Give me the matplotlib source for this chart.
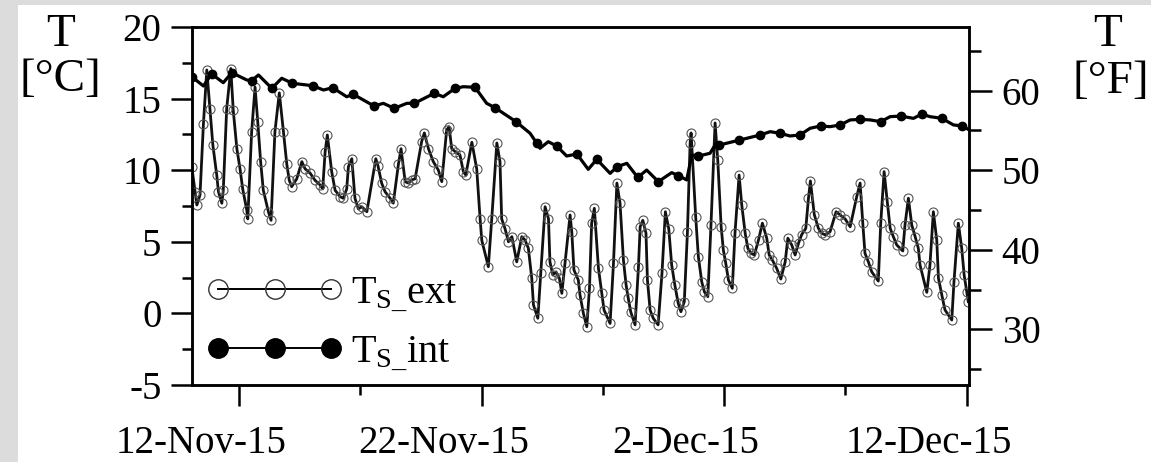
import matplotlib
matplotlib.use('Agg')
import matplotlib.pyplot as plt
import matplotlib.dates as mdates
import matplotlib.transforms as mtransforms
from matplotlib.ticker import FixedLocator
from matplotlib.lines import Line2D
from matplotlib.patches import Rectangle
import numpy as np
import pandas as pd

# ---------------- data (time = day of November 2015; 1-Dec = 31) ----------------
ext_day = [10.05, 10.19, 10.26, 10.39, 10.53, 10.67, 10.80, 10.92, 11.08, 11.15, 11.29, 11.35,
           11.49, 11.66, 11.76, 11.91, 12.04, 12.15, 12.32, 12.36, 12.52, 12.66, 12.77, 12.89,
           13.00, 13.21, 13.32, 13.48, 13.66, 13.83, 13.97, 14.07, 14.17, 14.38, 14.59, 14.72,
           14.93, 15.13, 15.34, 15.45, 15.55, 15.64, 15.82, 15.96, 16.17, 16.30, 16.44, 16.51,
           16.65, 16.78, 16.92, 17.06, 17.27, 17.64, 17.73, 17.88, 18.02, 18.23, 18.36, 18.57,
           18.68, 18.85, 18.98, 19.12, 19.26, 19.53, 19.64, 19.81, 20.01, 20.22, 20.36, 20.56,
           20.66, 20.77, 20.91, 21.11, 21.25, 21.35, 21.60, 21.80, 21.94, 22.01, 22.28, 22.42,
           22.63, 22.76, 22.83, 22.97, 23.11, 23.25, 23.45, 23.66, 23.79, 23.93, 24.07, 24.14,
           24.32, 24.44, 24.62, 24.76, 24.82, 24.94, 25.07, 25.21, 25.31, 25.44, 25.65, 25.72,
           25.81, 25.99, 26.06, 26.20, 26.34, 26.45, 26.54, 26.65, 26.82, 26.96, 27.05, 27.30,
           27.44, 27.58, 27.71, 27.85, 27.96, 28.05, 28.15, 28.33, 28.47, 28.54, 28.65, 28.78,
           28.84, 28.95, 29.08, 29.28, 29.44, 29.58, 29.72, 29.84, 29.97, 30.11, 30.22, 30.36,
           30.49, 30.60, 30.64, 30.83, 30.94, 31.08, 31.19, 31.33, 31.46, 31.63, 31.74, 31.88,
           31.97, 32.07, 32.18, 32.34, 32.45, 32.62, 32.73, 32.87, 32.98, 33.11, 33.25, 33.42,
           33.58, 33.76, 33.86, 33.99, 34.17, 34.34, 34.52, 34.63, 34.79, 34.93, 35.07, 35.20,
           35.37, 35.48, 35.56, 35.72, 35.89, 36.03, 36.17, 36.37, 36.62, 36.79, 36.99, 37.20,
           37.47, 37.61, 37.72, 37.81, 37.95, 38.09, 38.36, 38.46, 38.60, 38.73, 38.85, 38.98,
           39.12, 39.37, 39.46, 39.60, 39.74, 39.88, 40.01, 40.08, 40.36, 40.49, 40.63, 40.77,
           40.84, 40.98, 41.11, 41.39, 41.48, 41.66, 41.80, 41.90, 42.01, 42.07]
ext_temp = [10.25, 8.5, 7.57, 8.27, 13.2, 17.0, 14.3, 11.76, 9.66, 8.5, 7.69, 8.6,
            14.3, 17.1, 14.2, 11.5, 10.1, 8.7, 7.2, 6.6, 12.7, 15.8, 13.4, 10.6,
            8.6, 7.1, 6.5, 12.7, 15.4, 12.7, 10.4, 9.3, 8.85, 9.4, 10.6, 10.1,
            9.8, 9.3, 8.97, 8.7, 11.3, 12.46, 9.9, 8.6, 8.15, 8.04, 8.7, 10.25,
            10.8, 8.04, 7.3, 7.45, 7.1, 10.8, 10.3, 9.1, 8.5, 8.04, 7.7, 10.4,
            11.5, 9.2, 9.1, 9.32, 9.4, 12.0, 12.6, 11.5, 10.6, 10.0, 9.2, 12.8,
            13.04, 11.5, 11.3, 11.06, 9.9, 9.66, 11.95, 10.1, 6.6, 5.1, 3.26, 6.6,
            11.9, 10.6, 6.6, 5.9, 5.0, 5.36, 3.6, 5.36, 5.13, 4.55, 2.45, 0.59,
            -0.34, 2.8, 7.45, 6.6, 3.6, 2.68, 2.9, 2.45, 1.4, 3.5, 6.87, 5.7,
            3.03, 2.33, 1.28, 0.0, -0.93, 1.75, 6.3, 7.34, 3.15, 1.4, 0.24, -0.7,
            3.5, 9.1, 7.7, 3.73, 1.98, 1.05, 0.12, -0.8, 3.26, 6.05, 6.5, 5.6,
            2.33, 0.24, -0.34, -0.8, 2.8, 7.1, 5.9, 3.38, 1.98, 0.7, 0.12, 0.82,
            5.7, 11.9, 12.6, 6.75, 3.96, 2.2, 1.5, 1.17, 6.17, 13.3, 10.7, 6.05,
            4.43, 3.5, 2.33, 1.75, 5.6, 9.66, 7.57, 5.6, 4.55, 4.2, 4.08, 5.13,
            6.3, 5.25, 4.08, 3.73, 3.15, 2.4, 3.6, 5.25, 4.78, 4.08, 4.9, 5.5,
            5.94, 8.04, 9.25, 6.9, 5.94, 5.6, 5.48, 5.7, 7.1, 6.87, 6.6, 6.05,
            8.15, 9.1, 6.3, 4.2, 3.6, 2.9, 2.26, 6.3, 9.9, 7.8, 5.94, 5.36,
            4.78, 4.36, 6.17, 8.04, 6.17, 5.36, 4.55, 3.38, 1.47, 3.38, 7.1, 5.13,
            2.45, 1.28, 0.24, -0.46, 2.2, 6.3, 4.55, 2.68, 1.5, 0.82]

int_day = [10.05, 10.53, 10.87, 11.35, 11.70, 12.32, 12.52, 12.80, 13.35, 13.76, 14.20, 15.04,
           15.48, 15.86, 16.44, 16.71, 17.57, 17.95, 18.40, 18.92, 19.23, 20.05, 20.42, 20.91,
           21.25, 21.73, 22.21, 22.56, 23.42, 24.00, 24.28, 24.41, 24.75, 25.10, 25.51, 25.93,
           26.40, 26.75, 27.30, 27.60, 27.99, 28.44, 28.81, 29.29, 29.84, 30.12, 30.46, 30.67,
           30.94, 31.42, 31.63, 31.81, 32.63, 33.49, 33.90, 34.31, 34.72, 35.13, 35.55, 35.99,
           36.37, 36.79, 37.20, 37.61, 38.03, 38.46, 38.85, 39.30, 39.81, 40.15, 40.49, 40.98,
           41.46, 41.83, 42.12]
int_temp = [16.53, 15.88, 16.72, 16.11, 16.81, 16.3, 16.25, 16.65, 15.72, 16.42, 16.07, 15.9,
            15.6, 15.76, 15.13, 15.3, 14.48, 14.67, 14.32, 14.67, 14.67, 15.37, 15.13, 15.72,
            15.83, 15.79, 14.67, 14.36, 13.39, 12.58, 11.88, 11.53, 11.99, 11.69, 10.99, 11.13,
            10.06, 10.76, 9.78, 10.25, 10.48, 9.5, 10.01, 9.2, 9.83, 9.62, 9.32, 11.06,
            10.99, 11.18, 11.76, 11.76, 12.1, 12.46, 12.69, 12.58, 12.39, 12.46, 12.93, 13.09,
            13.04, 13.16, 13.51, 13.55, 13.51, 13.39, 13.74, 13.78, 13.62, 13.92, 13.74, 13.62,
            13.16, 13.09, 12.8]
int_is_marker = [1, 0, 1, 0, 1, 0, 1, 0, 1, 0, 1, 1,
                 0, 1, 0, 1, 1, 0, 1, 0, 1, 1, 0, 1,
                 0, 1, 0, 1, 1, 0, 1, 0, 0, 1, 0, 1,
                 0, 1, 0, 1, 0, 1, 0, 1, 0, 1, 0, 0,
                 1, 0, 0, 1, 1, 1, 0, 1, 0, 1, 0, 1,
                 0, 1, 0, 1, 0, 1, 0, 1, 0, 1, 0, 1,
                 0, 1, 0]

series_labels = [r'T$_{\mathrm{S\_}}$ext', r'T$_{\mathrm{S\_}}$int']
x_major_dates = ['2015-11-12', '2015-11-22', '2015-12-02', '2015-12-12']
x_major_labels = ['12-Nov-15', '22-Nov-15', '2-Dec-15', '12-Dec-15']
x_minor_dates = ['2015-11-17', '2015-11-27', '2015-12-07']
c_ticks = [-5, 0, 5, 10, 15, 20]
c_minor = [-2.5, 2.5, 7.5, 12.5, 17.5]
f_ticks = [30, 40, 50, 60]
f_minor = [25, 35, 45, 55, 65]
x_range_days = [10.06, 42.10]
c_range = [-5, 20]

# ---------------- style ----------------
plt.rcParams['font.family'] = ['Liberation Serif', 'DejaVu Serif']
plt.rcParams['mathtext.fontset'] = 'custom'
plt.rcParams['mathtext.rm'] = 'Liberation Serif'
plt.rcParams['mathtext.it'] = 'Liberation Serif:italic'
plt.rcParams['font.size'] = 28

W, H = 1151, 462
fig = plt.figure(figsize=(W / 100, H / 100), dpi=100)
fig.patch.set_facecolor('#dcdcdc')
bg = Rectangle((18 / W, 0), 1 - 18 / W, 1 - 5 / H, transform=fig.transFigure,
               facecolor='white', edgecolor='none', zorder=-10)
fig.add_artist(bg)

ax = fig.add_axes([192 / W, 1 - 385 / H, (969 - 192) / W, (385 - 27) / H])
ax.set_facecolor('white')

base = mdates.date2num(pd.Timestamp('2015-10-31'))
xe = base + np.asarray(ext_day)
xi = base + np.asarray(int_day)
mark_idx = [i for i, m in enumerate(int_is_marker) if m]

ax.plot(xe, ext_temp, color='#111111', lw=2.0, marker='o', ms=6.5, mfc='none',
        mec='#555555', mew=0.8, zorder=3)
ax.plot(xi, int_temp, color='black', lw=2.3, marker='o', ms=6.0, mfc='black',
        mec='black', markevery=mark_idx, zorder=4)

ax.set_xlim(base + x_range_days[0], base + x_range_days[1])
ax.set_ylim(*c_range)

maj = [mdates.date2num(pd.Timestamp(d)) for d in x_major_dates]
mnr = [mdates.date2num(pd.Timestamp(d)) for d in x_minor_dates]
ax.xaxis.set_major_locator(FixedLocator(maj))
ax.xaxis.set_minor_locator(FixedLocator(mnr))
ax.set_xticklabels(x_major_labels)
ax.yaxis.set_major_locator(FixedLocator(c_ticks))
ax.yaxis.set_minor_locator(FixedLocator(c_minor))
ax.set_yticklabels([str(v) for v in c_ticks])

for s in ax.spines.values():
    s.set_linewidth(1.8)
ax.tick_params(axis='both', which='major', direction='out', length=15, width=1.8)
ax.tick_params(axis='both', which='minor', direction='out', length=7.5, width=1.8)
ax.tick_params(axis='x', which='major', pad=14)
ax.tick_params(axis='y', which='major', pad=7)
shift = mtransforms.ScaledTranslation(-0.38, 0, fig.dpi_scale_trans)
for lbl in ax.get_xticklabels():
    lbl.set_transform(lbl.get_transform() + shift)

ax2 = ax.twinx()
ax2.set_ylim(c_range[0] * 9 / 5 + 32, c_range[1] * 9 / 5 + 32)
ax2.yaxis.set_major_locator(FixedLocator(f_ticks))
ax2.yaxis.set_minor_locator(FixedLocator(f_minor))
ax2.set_yticklabels([str(v) for v in f_ticks])
for s in ax2.spines.values():
    s.set_linewidth(1.8)
ax2.tick_params(axis='y', which='major', direction='out', length=16.5, width=1.8, pad=7)
ax2.tick_params(axis='y', which='minor', direction='out', length=8.5, width=1.8)

# axis titles
fig.text(61 / W, 1 - 35 / H, 'T', ha='center', va='center', fontsize=34)
fig.text(60 / W, 1 - 80 / H, '[°C]', ha='center', va='center', fontsize=34)
fig.text(1108 / W, 1 - 35 / H, 'T', ha='center', va='center', fontsize=34)
fig.text(1111 / W, 1 - 82 / H, '[°F]', ha='center', va='center', fontsize=34)

handles = [Line2D([], [], color='black', lw=1.4, marker='o', ms=14, mfc='none', mec='#333333', mew=1.0),
           Line2D([], [], color='black', lw=1.4, marker='o', ms=14, mfc='black', mec='black')]
ax.legend(handles, series_labels, loc='lower left', bbox_to_anchor=(-0.018, -0.045), frameon=False,
          numpoints=3, handlelength=3.4, handletextpad=0.2, labelspacing=0.5, fontsize=29,
          borderpad=0.2)

fig.savefig('out.png', dpi=100, facecolor=fig.get_facecolor())
